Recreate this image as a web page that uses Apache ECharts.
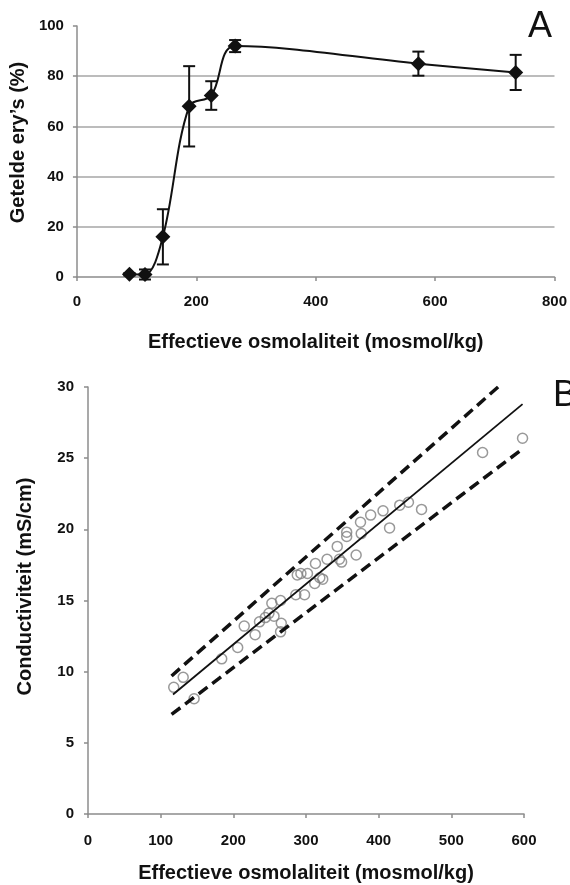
<!DOCTYPE html>
<html><head><meta charset="utf-8">
<script src="https://cdn.jsdelivr.net/npm/echarts@6/dist/echarts.min.js"></script>
<style>html,body{margin:0;padding:0;background:#fff}#chart{width:570px;height:885px}</style>
</head><body><div id="chart"></div>
<script>
// panel A: counted erythrocytes vs effective osmolality
var osmA = [88, 114, 144, 188, 225, 265, 572, 735];
var countA = [1.1, 1.0, 16, 68, 72.3, 92, 85, 81.5];
var errA = [0.5, 2, 11, 16, 5.7, 2.4, 4.8, 7];
var ticksAx = [0, 200, 400, 600, 800];
var ticksAy = [0, 20, 40, 60, 80, 100];

// panel B: conductivity vs effective osmolality
var osmB = [118, 131, 146, 184, 206, 215, 230, 236, 244, 249, 253, 256, 265, 266, 265,
  286, 288, 293, 298, 302, 312, 313, 319, 323, 329, 343, 346, 349, 356, 356,
  369, 375, 376, 389, 406, 415, 429, 441, 459, 543, 598];
var condB = [8.9, 9.6, 8.1, 10.9, 11.7, 13.2, 12.6, 13.5, 13.8, 14.1, 14.8, 13.9, 15.0, 13.4, 12.8,
  15.4, 16.8, 16.9, 15.4, 16.9, 16.2, 17.6, 16.6, 16.5, 17.9, 18.8, 17.9, 17.7, 19.8, 19.5,
  18.2, 20.5, 19.7, 21.0, 21.3, 20.1, 21.7, 21.9, 21.4, 25.4, 26.4];
var fitX = [117, 598], fitY = [8.4, 28.8];
var upperX = [115, 571], upperY = [9.7, 30.3];
var lowerX = [115, 598], lowerY = [7.0, 25.65];
var ticksBx = [0, 100, 200, 300, 400, 500, 600];
var ticksBy = [0, 5, 10, 15, 20, 25, 30];

function pairs(xs, ys) {
  return xs.map(function (x, i) { return [x, ys[i]]; });
}

var font = 'Liberation Sans, Arial, sans-serif';
var axisGrey = '#8c8c8c';

function valueAxis(ticks, gridIndex, extra) {
  var ax = {
    type: 'value',
    gridIndex: gridIndex,
    min: ticks[0],
    max: ticks[ticks.length - 1],
    interval: ticks[1] - ticks[0],
    axisLine: { show: true, lineStyle: { color: axisGrey, width: 1.5 } },
    axisTick: { show: true, length: 4, lineStyle: { color: axisGrey, width: 1.5 } },
    splitLine: { show: false },
    nameLocation: 'middle'
  };
  for (var k in extra) ax[k] = extra[k];
  return ax;
}

function tickLabels(margin) {
  return { color: '#111', fontFamily: font, fontWeight: 'bold', fontSize: 15, margin: margin };
}

function titleStyle(padding) {
  return { color: '#111', fontFamily: font, fontWeight: 'bold', fontSize: 20, padding: padding };
}

var errorBars = {
  type: 'custom',
  xAxisIndex: 0, yAxisIndex: 0,
  z: 3,
  data: osmA.map(function (x, i) { return [x, countA[i] - errA[i], countA[i] + errA[i]]; }),
  renderItem: function (params, api) {
    var lo = api.coord([api.value(0), api.value(1)]);
    var hi = api.coord([api.value(0), api.value(2)]);
    var w = 6;
    var st = { stroke: '#111', lineWidth: 2 };
    return {
      type: 'group',
      children: [
        { type: 'line', shape: { x1: lo[0], y1: lo[1], x2: hi[0], y2: hi[1] }, style: st },
        { type: 'line', shape: { x1: lo[0] - w, y1: lo[1], x2: lo[0] + w, y2: lo[1] }, style: st },
        { type: 'line', shape: { x1: hi[0] - w, y1: hi[1], x2: hi[0] + w, y2: hi[1] }, style: st }
      ]
    };
  }
};

var chart = echarts.init(document.getElementById('chart'), null, { renderer: 'canvas' });
chart.setOption({
  animation: false,
  backgroundColor: '#fff',
  grid: [
    { left: 69, right: 14, top: 26, bottom: 608 },
    { left: 88, right: 46, top: 387, bottom: 71 }
  ],
  xAxis: [
    valueAxis(ticksAx, 0, {
      name: 'Effectieve osmolaliteit (mosmol/kg)', nameGap: 55,
      nameTextStyle: titleStyle(0),
      axisLabel: tickLabels(17)
    }),
    valueAxis(ticksBx, 1, {
      name: 'Effectieve osmolaliteit (mosmol/kg)', nameGap: 49,
      nameTextStyle: titleStyle(0),
      axisLabel: tickLabels(19)
    })
  ],
  yAxis: [
    valueAxis(ticksAy, 0, {
      name: 'Getelde ery\u2019s (%)', nameGap: 37,
      nameTextStyle: titleStyle([0, 0, 0, 18]),
      axisLabel: tickLabels(13),
      splitLine: { show: true, showMinLine: false, showMaxLine: false, lineStyle: { color: '#a6a6a6', width: 1.5 } }
    }),
    valueAxis(ticksBy, 1, {
      name: 'Conductiviteit (mS/cm)', nameGap: 53,
      nameTextStyle: titleStyle([0, 0, 0, 28]),
      axisLabel: tickLabels(14)
    })
  ],
  graphic: [
    { type: 'text', left: 528, top: 9, style: { text: 'A', font: '36px ' + font, fill: '#111' } },
    { type: 'text', left: 553, top: 378, style: { text: 'B', font: '36px ' + font, fill: '#111' } }
  ],
  series: [
    {
      type: 'line', xAxisIndex: 0, yAxisIndex: 0,
      data: pairs(osmA, countA),
      smooth: 0.35,
      symbol: 'diamond', symbolSize: 15,
      lineStyle: { color: '#111', width: 2 },
      itemStyle: { color: '#111' },
      z: 4
    },
    errorBars,
    {
      type: 'scatter', xAxisIndex: 1, yAxisIndex: 1,
      data: pairs(osmB, condB),
      symbol: 'circle', symbolSize: 10,
      itemStyle: { color: 'rgba(255,255,255,0)', borderColor: '#7f7f7f', borderWidth: 1.5 }
    },
    {
      type: 'line', xAxisIndex: 1, yAxisIndex: 1,
      data: pairs(fitX, fitY), symbol: 'none',
      lineStyle: { color: '#111', width: 1.8 }
    },
    {
      type: 'line', xAxisIndex: 1, yAxisIndex: 1,
      data: pairs(upperX, upperY), symbol: 'none',
      lineStyle: { color: '#111', width: 3.5, type: [11, 6] }
    },
    {
      type: 'line', xAxisIndex: 1, yAxisIndex: 1,
      data: pairs(lowerX, lowerY), symbol: 'none',
      lineStyle: { color: '#111', width: 3.5, type: [11, 6] }
    }
  ]
});
</script>
</body></html>
